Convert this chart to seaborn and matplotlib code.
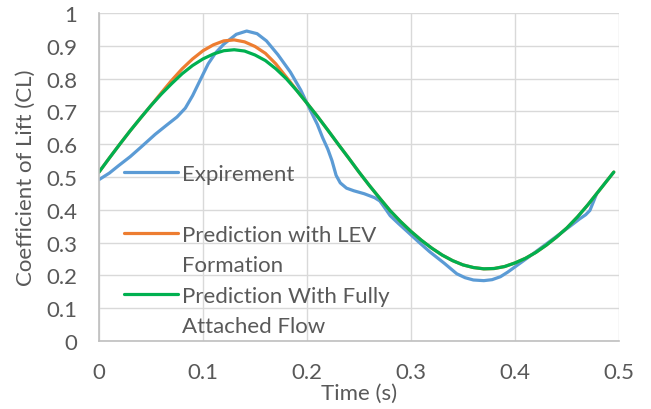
import matplotlib
matplotlib.use("Agg")
import matplotlib.pyplot as plt
from matplotlib.lines import Line2D
import seaborn as sns
import pandas as pd

# ---- data ----
t_exp = [0.000, 0.010, 0.019, 0.030, 0.040, 0.054, 0.065, 0.075, 0.083, 0.090,
         0.098, 0.105, 0.112, 0.120, 0.132, 0.142, 0.152, 0.161, 0.172, 0.184,
         0.194, 0.203, 0.210, 0.215, 0.220, 0.224, 0.228, 0.232, 0.238, 0.245,
         0.255, 0.265, 0.270, 0.275, 0.280, 0.288, 0.296, 0.307, 0.318, 0.332,
         0.344, 0.352, 0.360, 0.370, 0.378, 0.386, 0.393, 0.400, 0.414, 0.434,
         0.453, 0.462, 0.468, 0.472, 0.478]
cl_exp = [0.492, 0.512, 0.535, 0.562, 0.590, 0.630, 0.658, 0.683, 0.710, 0.748,
          0.800, 0.845, 0.878, 0.905, 0.935, 0.945, 0.937, 0.915, 0.873, 0.820,
          0.765, 0.705, 0.660, 0.620, 0.585, 0.550, 0.505, 0.482, 0.466, 0.458,
          0.449, 0.437, 0.427, 0.405, 0.382, 0.358, 0.335, 0.303, 0.272, 0.237,
          0.205, 0.193, 0.186, 0.184, 0.187, 0.196, 0.210, 0.226, 0.258, 0.305,
          0.350, 0.372, 0.385, 0.398, 0.445]

t_pred = [0.000, 0.010, 0.020, 0.030, 0.040, 0.050, 0.060, 0.070, 0.080, 0.090,
          0.100, 0.110, 0.120, 0.130, 0.140, 0.150, 0.160, 0.170, 0.180, 0.190,
          0.200, 0.210, 0.220, 0.230, 0.240, 0.250, 0.260, 0.270, 0.280, 0.290,
          0.300, 0.310, 0.320, 0.330, 0.340, 0.350, 0.360, 0.370, 0.380, 0.390,
          0.400, 0.410, 0.420, 0.430, 0.440, 0.450, 0.460, 0.470, 0.480, 0.490,
          0.495]
cl_lev = [0.515, 0.558, 0.600, 0.641, 0.680, 0.718, 0.757, 0.795, 0.830, 0.860,
          0.885, 0.903, 0.915, 0.918, 0.912, 0.898, 0.877, 0.845, 0.805, 0.765,
          0.725, 0.685, 0.643, 0.600, 0.558, 0.515, 0.474, 0.435, 0.397, 0.364,
          0.334, 0.307, 0.283, 0.262, 0.245, 0.232, 0.224, 0.220, 0.221, 0.227,
          0.238, 0.252, 0.270, 0.292, 0.317, 0.345, 0.378, 0.415, 0.455, 0.495,
          0.515]
cl_att = [0.515, 0.558, 0.600, 0.641, 0.680, 0.718, 0.753, 0.785, 0.815, 0.840,
          0.860, 0.875, 0.885, 0.888, 0.884, 0.872, 0.855, 0.830, 0.800, 0.764,
          0.725, 0.685, 0.643, 0.600, 0.558, 0.515, 0.474, 0.435, 0.397, 0.364,
          0.334, 0.307, 0.283, 0.262, 0.245, 0.232, 0.224, 0.220, 0.221, 0.227,
          0.238, 0.252, 0.270, 0.292, 0.317, 0.345, 0.378, 0.415, 0.455, 0.495,
          0.515]

series_names = ["Expirement", "Prediction with LEV\nFormation",
                "Prediction With Fully\nAttached Flow"]
x_ticks = [0, 0.1, 0.2, 0.3, 0.4, 0.5]
y_ticks = [0, 0.1, 0.2, 0.3, 0.4, 0.5, 0.6, 0.7, 0.8, 0.9, 1]
x_tick_labels = ["0", "0.1", "0.2", "0.3", "0.4", "0.5"]
y_tick_labels = ["0", "0.1", "0.2", "0.3", "0.4", "0.5", "0.6", "0.7", "0.8", "0.9", "1"]

# ---- style ----
sns.set_theme(style="white")
plt.rcParams["font.family"] = ["Lato", "DejaVu Sans"]
TXT = "#595959"
FS = 16

df_exp = pd.DataFrame({"t": t_exp, "cl": cl_exp})
df_lev = pd.DataFrame({"t": t_pred, "cl": cl_lev})
df_att = pd.DataFrame({"t": t_pred, "cl": cl_att})

fig = plt.figure(figsize=(6.51, 4.10), dpi=100)
ax = fig.add_axes([99/651, 1 - 342/410, 520/651, 328/410])

lw = 2.3
common = dict(ax=ax, lw=lw, sort=False, estimator=None,
              solid_joinstyle="round", solid_capstyle="round")
sns.lineplot(data=df_exp, x="t", y="cl", color="#5B9BD5",
             label=series_names[0], **common)
sns.lineplot(data=df_lev, x="t", y="cl", color="#ED7D31",
             label=series_names[1], **common)
sns.lineplot(data=df_att, x="t", y="cl", color="#00B050",
             label=series_names[2], **common)

ax.set_xlim(0, 0.5)
ax.set_ylim(0, 1)
ax.set_xticks(x_ticks)
ax.set_xticklabels(x_tick_labels)
ax.set_yticks(y_ticks)
ax.set_yticklabels(y_tick_labels)
ax.grid(True, color="#D9D9D9", lw=1.0)
ax.set_axisbelow(True)
for s in ["top", "right"]:
    ax.spines[s].set_visible(False)
for s in ["left", "bottom"]:
    ax.spines[s].set_color("#BFBFBF")
    ax.spines[s].set_linewidth(1.2)
ax.tick_params(axis="both", length=0, labelsize=FS, labelcolor=TXT)
ax.tick_params(axis="y", pad=15.5)
ax.tick_params(axis="x", pad=15)

ax.set_xlabel("Time (s)", fontsize=FS, color=TXT)
ax.set_ylabel("Coefficient of Lift (CL)", fontsize=FS, color=TXT)
ax.xaxis.set_label_coords(0.5, -0.127)
ax.yaxis.set_label_coords(-0.122, 0.5)

# legend: Excel spreads rows evenly; labels wrap onto a second row
h, l = ax.get_legend_handles_labels()
blank = Line2D([], [], color="none")
handles = [h[0], blank, h[1], blank, h[2], blank]
labels = ["Expirement", "", "Prediction with LEV", "Formation",
          "Prediction With Fully", "Attached Flow"]
leg = ax.legend(handles, labels, loc="upper left",
                bbox_to_anchor=(25/520, (342 - 165)/328),
                frameon=False, fontsize=FS, labelcolor=TXT,
                handlelength=2.43, handletextpad=0.2, borderpad=0,
                borderaxespad=0, labelspacing=0.47)

fig.savefig("out.png", dpi=100)
